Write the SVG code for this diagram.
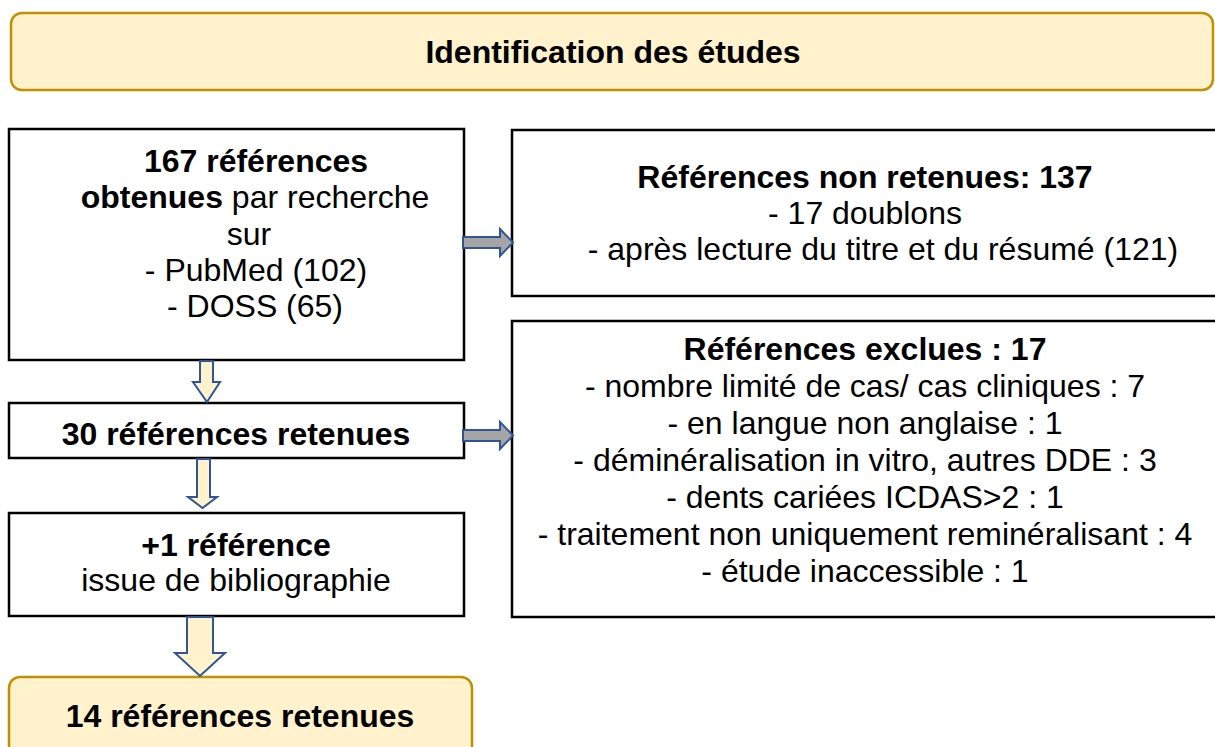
<svg xmlns="http://www.w3.org/2000/svg" width="1215" height="747" viewBox="0 0 1215 747">
<style>
text{font-family:"Liberation Sans",Arial,sans-serif;font-size:32px;fill:#000;text-anchor:middle}
.b{font-weight:bold}
.box{fill:#fff;stroke:#000;stroke-width:2.5}
.gold{fill:#FFF2CC;stroke:#BF9000;stroke-width:2.5}
.down{fill:#FFF2CC;stroke:#2F5597;stroke-width:2}
.right{fill:#A5A5A5;stroke:#2F5597;stroke-width:2}
</style>
<rect width="1215" height="747" fill="#fff"/>
<g id="title">
<rect class="gold" x="11" y="13" width="1202" height="77" rx="11"/>
<text class="b" x="613" y="63">Identification des études</text>
</g>
<g id="search">
<rect class="box" x="9" y="129" width="455" height="231"/>
<text x="256" y="172" class="b">167 références</text>
<text x="255" y="208"><tspan class="b">obtenues</tspan> par recherche</text>
<text x="249" y="245">sur</text>
<text x="256" y="281">- PubMed (102)</text>
<text x="255" y="317">- DOSS (65)</text>
</g>
<g id="nonretenues">
<rect class="box" x="512" y="130" width="720" height="166"/>
<text class="b" x="865" y="188">Références non retenues: 137</text>
<text x="865" y="224">- 17 doublons</text>
<text x="883" y="260">- après lecture du titre et du résumé (121)</text>
</g>
<g id="retenues30">
<rect class="box" x="9" y="403" width="455" height="55"/>
<text class="b" x="236" y="445">30 références retenues</text>
</g>
<g id="exclues">
<rect class="box" x="512" y="321" width="720" height="296"/>
<text class="b" x="865" y="360">Références exclues : 17</text>
<text x="865" y="397">- nombre limité de cas/ cas cliniques : 7</text>
<text x="865" y="434">- en langue non anglaise : 1</text>
<text x="865" y="471">- déminéralisation in vitro, autres DDE : 3</text>
<text x="865" y="508">- dents cariées ICDAS&gt;2 : 1</text>
<text x="865" y="545">- traitement non uniquement reminéralisant : 4</text>
<text x="865" y="582">- étude inaccessible : 1</text>
</g>
<g id="biblio">
<rect class="box" x="9" y="513" width="455" height="103"/>
<text class="b" x="236" y="556">+1 référence</text>
<text x="236" y="591">issue de bibliographie</text>
</g>
<g id="final">
<rect class="gold" x="9" y="677" width="463" height="90" rx="11"/>
<text class="b" x="240" y="727">14 références retenues</text>
</g>
<g id="connectors">
<polygon class="right" points="463,237 500,237 500,229 513,242.5 500,256 500,248 463,248"/>
<polygon class="right" points="463,430 500,430 500,422 513,435.5 500,449 500,441 463,441"/>
<polygon class="down" points="200,361 213,361 213,382 220,382 207,402 193,382 200,382"/>
<polygon class="down" points="197,459 210,459 210,497 217,497 202.5,508 188,497 197,497"/>
<polygon class="down" points="187,617 213,617 213,653 225,653 200,676 175,653 187,653"/>
</g>
</svg>
